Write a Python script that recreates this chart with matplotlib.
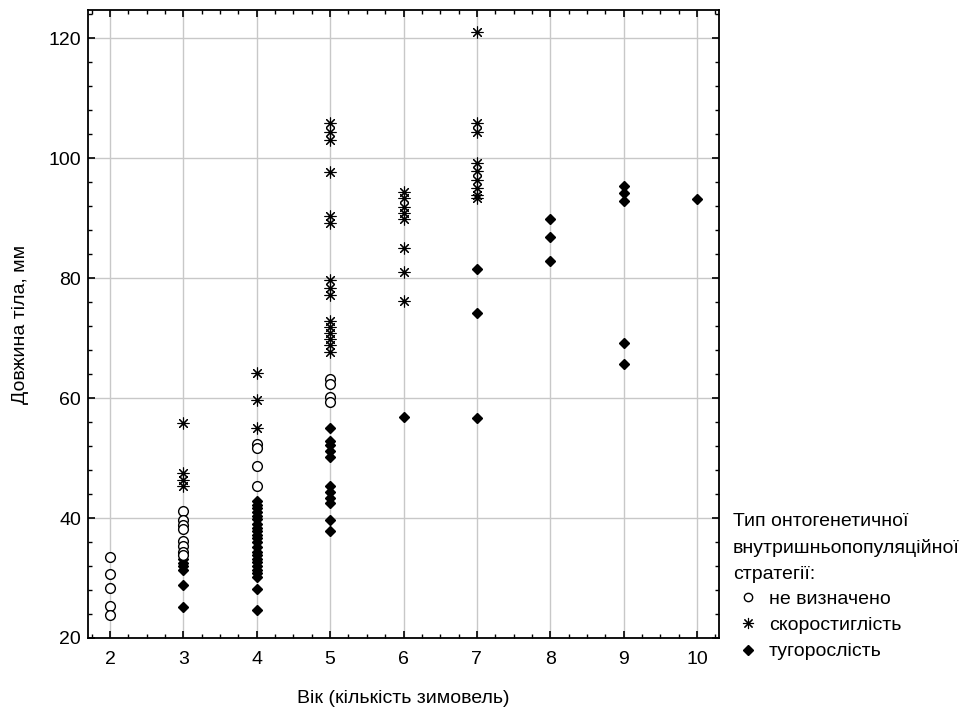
import matplotlib.pyplot as plt
from matplotlib.ticker import MultipleLocator
from matplotlib.lines import Line2D

plt.rcParams['font.family'] = ['Liberation Sans', 'DejaVu Sans']

# довжина тіла (мм) за віком, для кожного типу стратегії
undet = {
    2: [33.5, 30.6, 28.3, 25.3, 23.9],
    3: [41.2, 39.7, 38.9, 38.1, 36.1, 35.3, 34.4, 33.9],
    4: [52.3, 51.7, 48.6, 45.4],
    5: [63.1, 62.3, 60.1, 59.4],
}
early = {
    3: [55.8, 47.5, 46.4, 45.3],
    4: [64.2, 59.6, 55.0],
    5: [105.8, 104.4, 103.1, 97.7, 90.3, 89.2, 79.7, 78.3, 77.2,
        72.8, 71.8, 70.8, 69.8, 68.8, 67.6],
    6: [94.4, 93.3, 91.9, 90.8, 89.9, 85.1, 81.0, 76.2],
    7: [121.1, 105.8, 104.4, 99.2, 97.8, 96.4, 95.0, 93.9, 93.3],
}
slow = {
    3: [33.1, 32.5, 32.0, 31.4, 28.9, 25.2],
    4: [42.8, 42.2, 41.6, 41.0, 40.4, 39.8, 39.0, 38.4, 37.8, 37.2, 36.6,
        36.0, 35.2, 34.4, 33.8, 33.2, 32.6, 32.0, 31.4, 30.8, 30.2, 28.2, 24.7],
    5: [55.0, 52.9, 52.1, 51.1, 50.1, 45.3, 44.3, 43.3, 42.5, 39.7, 37.8],
    6: [56.9],
    7: [81.6, 74.2, 56.7],
    8: [89.9, 86.8, 82.9],
    9: [95.3, 94.2, 92.9, 69.2, 65.6],
    10: [93.2],
}
labels = ['не визначено', 'скоростиглість', 'тугорослість']


def flat(d):
    xs, ys = [], []
    for k, v in d.items():
        xs += [k] * len(v)
        ys += v
    return xs, ys


fs = 14
fig = plt.figure(figsize=(9.74, 7.16), dpi=100)
ax = fig.add_axes([88 / 974, 1 - 638 / 716, (719 - 88) / 974, (638 - 10) / 716])

x, y = flat(slow)
ax.plot(x, y, 'D', color='black', markersize=5.5, zorder=3)
x, y = flat(undet)
ax.plot(x, y, 'o', mfc='white', mec='black', mew=1, markersize=7, zorder=4)
x, y = flat(early)
ax.plot(x, y, marker=(8, 2, 0), ls='none', color='black', markersize=8.5, mew=0.8, zorder=4)

ax.set_xlim(1.7, 10.3)
ax.set_ylim(20, 124.7)
ax.xaxis.set_major_locator(MultipleLocator(1))
ax.xaxis.set_minor_locator(MultipleLocator(0.25))
ax.yaxis.set_major_locator(MultipleLocator(20))
ax.yaxis.set_minor_locator(MultipleLocator(4))
ax.tick_params(which='both', direction='in', top=True, right=True, labelsize=fs, colors='black')
ax.tick_params(which='major', length=5, width=1.2)
ax.tick_params(which='minor', length=3, width=1)
ax.tick_params(axis='x', which='major', pad=9)
ax.tick_params(axis='y', which='major', pad=5)
ax.grid(True, which='major', color='#c8c8c8', lw=1)
ax.set_axisbelow(True)
for s in ax.spines.values():
    s.set_linewidth(1.3)

ax.set_xlabel('Вік (кількість зимовель)', fontsize=fs, labelpad=16)
ax.set_ylabel('Довжина тіла, мм', fontsize=fs, labelpad=14)

fig.text(733 / 974, 1 - 548 / 716, 'Тип онтогенетичної\nвнутришньопопуляційної\nстратегії:',
         fontsize=fs, va='center', ha='left', linespacing=1.65)
handles = [
    Line2D([], [], ls='none', marker='o', mfc='white', mec='black', markersize=6),
    Line2D([], [], ls='none', marker=(8, 2, 0), color='black', markersize=8, mew=0.8),
    Line2D([], [], ls='none', marker='D', color='black', markersize=5),
]
fig.legend(handles, labels, loc='upper left', bbox_to_anchor=(738 / 974, 1 - 590 / 716),
           frameon=False, fontsize=fs, handlelength=1, handletextpad=0.6,
           labelspacing=0.45, borderpad=0, borderaxespad=0)

fig.savefig('out.png', dpi=100)
